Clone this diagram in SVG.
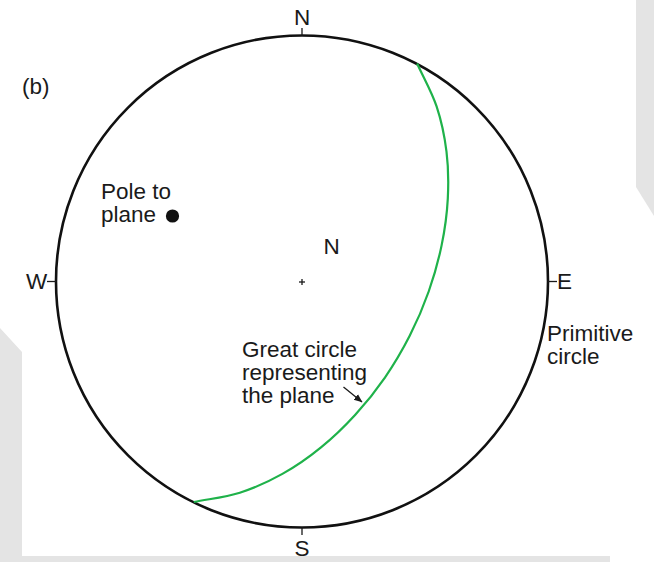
<svg xmlns="http://www.w3.org/2000/svg" width="654" height="562" viewBox="0 0 654 562">
<style>
  text { font-family: "Liberation Sans", Arial, sans-serif; font-size: 22.5px; fill: #1a1a1a; }
  .tick { stroke: #1a1a1a; stroke-width: 1.3; fill: none; }
  .prim { stroke: #111; stroke-width: 2.6; fill: none; }
  .gc { stroke: #1fb24a; stroke-width: 2.2; fill: none; }
  .bg { fill: #e4e4e4; }
</style>
<defs>
  <marker id="ah" markerWidth="9" markerHeight="9" refX="8" refY="4.5" orient="auto" markerUnits="userSpaceOnUse">
    <path d="M0,1 L8.5,4.5 L0,8 Z" fill="#1a1a1a"/>
  </marker>
</defs>
<rect width="654" height="562" fill="#ffffff"/>
<g id="background">
  <polygon class="bg" points="636,0 654,0 654,216 636,187"/>
  <polygon class="bg" points="0,328 22,352 22,556 610,556 610,562 0,562"/>
</g>
<g id="primitive-circle">
  <circle class="prim" cx="302" cy="281.5" r="246"/>
  <line class="tick" x1="302" y1="28" x2="302" y2="36"/>
  <line class="tick" x1="302" y1="527" x2="302" y2="535"/>
  <line class="tick" x1="47" y1="281.5" x2="56" y2="281.5"/>
  <line class="tick" x1="548" y1="281.5" x2="557" y2="281.5"/>
  <line class="tick" x1="299" y1="282" x2="305" y2="282" stroke-width="1"/>
  <line class="tick" x1="302" y1="279" x2="302" y2="285" stroke-width="1"/>
</g>
<g id="labels">
  <text x="302" y="24.5" text-anchor="middle">N</text>
  <text x="302" y="556" text-anchor="middle">S</text>
  <text x="26" y="289">W</text>
  <text x="557" y="289">E</text>
  <text x="22" y="94">(b)</text>
  <text x="323.5" y="254">N</text>
  <text x="547" y="341">Primitive</text>
  <text x="547" y="364">circle</text>
</g>
<g id="pole">
  <text x="101" y="199">Pole to</text>
  <text x="101" y="222">plane</text>
  <circle cx="172.5" cy="216" r="6.6" fill="#111"/>
</g>
<g id="great-circle">
  <path class="gc" d="M417.1,63.5 C423.6,77.8 431.7,91.7 436.6,106.4 C441.5,121.1 444.6,136.3 446.5,151.7 C448.4,167.1 448.6,183.0 447.8,198.6 C447.0,214.2 444.8,229.9 441.6,245.4 C438.4,260.9 434.0,276.4 428.7,291.5 C423.4,306.6 417.0,321.5 409.7,335.8 C402.4,350.1 394.2,364.1 385.1,377.3 C376.0,390.5 366.0,403.1 355.3,414.8 C344.6,426.5 333.2,437.6 321.0,447.4 C308.9,457.3 295.9,466.4 282.4,473.9 C268.9,481.5 254.6,488.0 239.8,492.7 C225.0,497.4 209.1,498.9 193.8,502.0"/>
  <text x="242" y="357">Great circle</text>
  <text x="242" y="380">representing</text>
  <text x="242" y="403">the plane</text>
</g>
<g id="connectors">
  <line x1="343.5" y1="387" x2="362" y2="402" stroke="#1a1a1a" stroke-width="1.3" marker-end="url(#ah)"/>
</g>
</svg>
